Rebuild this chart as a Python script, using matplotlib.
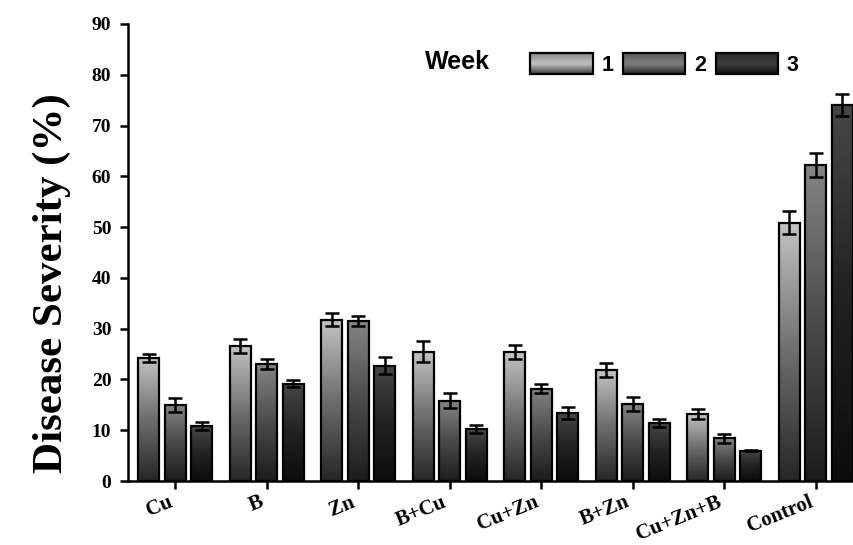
import numpy as np
import matplotlib
matplotlib.use("Agg")
import matplotlib.pyplot as plt
from matplotlib.colors import LinearSegmentedColormap
from matplotlib.legend_handler import HandlerBase
from matplotlib.patches import Rectangle

categories = ["Cu", "B", "Zn", "B+Cu", "Cu+Zn", "B+Zn", "Cu+Zn+B", "Control"]
week_labels = ["1", "2", "3"]
week1 = [24.3, 26.6, 31.8, 25.5, 25.4, 21.8, 13.2, 50.9]
week2 = [15.0, 23.0, 31.5, 15.8, 18.2, 15.1, 8.4, 62.2]
week3 = [10.8, 19.2, 22.7, 10.2, 13.4, 11.4, 6.0, 74.0]
err1 = [0.8, 1.35, 1.35, 2.0, 1.3, 1.4, 1.05, 2.35]
err2 = [1.4, 1.0, 1.05, 1.5, 0.9, 1.35, 0.85, 2.35]
err3 = [0.8, 0.65, 1.65, 0.8, 1.15, 0.75, 0.1, 2.15]
yticks = [0, 10, 20, 30, 40, 50, 60, 70, 80, 90]

series = [week1, week2, week3]
errors = [err1, err2, err3]
# gradient colours (bottom -> top)
cmaps = [
    LinearSegmentedColormap.from_list("w1", ["#262626", "#6e6e6e", "#c4c4c4"]),
    LinearSegmentedColormap.from_list("w2", ["#1c1c1c", "#4a4a4a", "#858585"]),
    LinearSegmentedColormap.from_list("w3", ["#0c0c0c", "#222222", "#474747"]),
]
legend_cmaps = [
    LinearSegmentedColormap.from_list("l1", ["#3a3a3a", "#bdbdbd", "#8a8a8a"]),
    LinearSegmentedColormap.from_list("l2", ["#262626", "#7c7c7c", "#5a5a5a"]),
    LinearSegmentedColormap.from_list("l3", ["#101010", "#3c3c3c", "#2a2a2a"]),
]

fig = plt.figure(figsize=(8.54, 5.45), dpi=100)
ax = fig.add_axes([128 / 854, 64 / 545, 726 / 854, 457 / 545])

x = np.arange(len(categories))
width = 0.23
step = 0.29
grad = np.linspace(0, 1, 256).reshape(-1, 1)

for i, (vals, errs) in enumerate(zip(series, errors)):
    pos = x + (i - 1) * step
    bars = ax.bar(pos, vals, width, facecolor="none", edgecolor="black",
                  linewidth=1.6, zorder=3)
    for b in bars:
        x0, y0 = b.get_x(), b.get_y()
        im = ax.imshow(grad, extent=(x0, x0 + b.get_width(), y0, y0 + b.get_height()),
                       origin="lower", cmap=cmaps[i], aspect="auto", zorder=2,
                       interpolation="bilinear")
        im.set_clip_path(b)
    ax.errorbar(pos, vals, yerr=errs, fmt="none", ecolor="black",
                elinewidth=1.8, capsize=5, capthick=1.8, zorder=4)

ax.set_xlim(-0.515, 7.42)
ax.set_ylim(0, 90)
ax.set_aspect("auto")

for s in ["top", "right"]:
    ax.spines[s].set_visible(False)
for s in ["left", "bottom"]:
    ax.spines[s].set_linewidth(1.8)

ax.set_yticks(yticks)
ax.set_xticks(x)
ax.tick_params(axis="both", direction="out", length=6, width=1.8)
ax.tick_params(axis="y", pad=6)
ax.tick_params(axis="x", pad=2)
ax.set_yticklabels([str(t) for t in yticks], fontfamily="Liberation Serif",
                   fontweight="bold", fontsize=14)
ax.set_xticklabels(categories, fontfamily="Liberation Serif", fontweight="bold",
                   fontsize=15, rotation=22, ha="right", rotation_mode="default")

ax.set_ylabel("Disease Severity (%)", fontfamily="Liberation Serif",
              fontweight="bold", fontsize=31)
ax.yaxis.set_label_coords(-0.078, 0.433)


class GradHandler(HandlerBase):
    def __init__(self, cmap):
        super().__init__()
        self.cmap = cmap

    def create_artists(self, legend, orig_handle, xdescent, ydescent, width,
                       height, fontsize, trans):
        arts = []
        n = 20
        for k in range(n):
            c = self.cmap(1 - (k + 0.5) / n)
            r = Rectangle((-xdescent, -ydescent + height * (n - k - 1) / n),
                          width, height / n, facecolor=c, edgecolor="none",
                          transform=trans)
            arts.append(r)
        border = Rectangle((-xdescent, -ydescent), width, height,
                           facecolor="none", edgecolor="black", linewidth=1.6,
                           transform=trans)
        arts.append(border)
        return arts


handles = [Rectangle((0, 0), 1, 1) for _ in week_labels]
leg = ax.legend(handles, week_labels, ncol=3, frameon=False,
                loc="upper left", bbox_to_anchor=(0.542, 0.955),
                handlelength=2.9, handleheight=1.1, handletextpad=0.4,
                columnspacing=0.45, borderaxespad=0,
                prop={"family": "Liberation Sans", "weight": "bold", "size": 15.5},
                handler_map={h: GradHandler(cm) for h, cm in zip(handles, legend_cmaps)})
ax.text(0.409, 0.917, "Week", transform=ax.transAxes, fontfamily="Liberation Sans",
        fontweight="bold", fontsize=18, va="center", ha="left")

fig.savefig("out.png", dpi=100)
